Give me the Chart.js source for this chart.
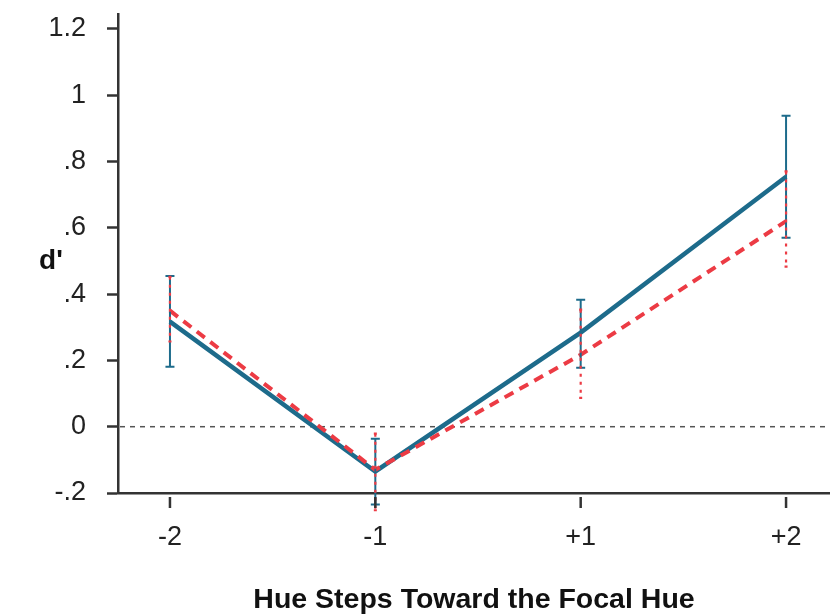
<!DOCTYPE html>
<html>
<head>
<meta charset="utf-8">
<script src="https://cdn.jsdelivr.net/npm/chart.js@4.4.1/dist/chart.umd.min.js"></script>
<style>
  html, body { margin: 0; padding: 0; background: #fff; }
  #wrap { width: 830px; height: 615px; position: relative; }
</style>
</head>
<body>
<div id="wrap"><canvas id="dprime"></canvas></div>
<script>
// values
const xLabels = ['-2', '-1', '+1', '+2'];
const xPos = [0, 1, 2, 3];

const blueMean = [0.317, -0.135, 0.284, 0.754];
const blueLow = [0.181, -0.235, 0.178, 0.570];
const blueHigh = [0.455, -0.036, 0.383, 0.938];

const redMean = [0.350, -0.130, 0.217, 0.620];
const redLow = [0.257, -0.252, 0.087, 0.483];
const redHigh = [0.452, -0.021, 0.353, 0.770];

const yTicks = [-0.2, 0, 0.2, 0.4, 0.6, 0.8, 1, 1.2];
const yTickLabels = ['-.2', '0', '.2', '.4', '.6', '.8', '1', '1.2'];

const blue = '#1d6b8b';
const red = '#ec3b44';
const axisCol = '#333333';
const fontFam = "'Liberation Sans', Arial, sans-serif";

function pts(vals) {
    return vals.map((v, i) => ({ x: xPos[i], y: v }));
}

// error bars, zero line, x tick marks, y title
const extras = {
    id: 'extras',
    beforeDatasetsDraw(chart) {
        const { ctx, chartArea, scales } = chart;
        const y0 = scales.y.getPixelForValue(0);
        ctx.save();
        ctx.strokeStyle = '#555';
        ctx.lineWidth = 1.5;
        ctx.setLineDash([5, 5]);
        ctx.beginPath();
        ctx.moveTo(chartArea.left + 2, y0);
        ctx.lineTo(chartArea.right, y0);
        ctx.stroke();
        ctx.restore();
    },
    afterDatasetsDraw(chart) {
        const { ctx, chartArea, scales } = chart;
        const xs = scales.x, ys = scales.y;

        function bars(low, high, color, dash, width, cap) {
            ctx.save();
            ctx.strokeStyle = color;
            ctx.lineWidth = width;
            for (let i = 0; i < xPos.length; i++) {
                const px = xs.getPixelForValue(xPos[i]);
                const top = ys.getPixelForValue(high[i]);
                const bot = ys.getPixelForValue(low[i]);
                ctx.setLineDash(dash);
                ctx.beginPath();
                ctx.moveTo(px, top);
                ctx.lineTo(px, bot);
                ctx.stroke();
                ctx.setLineDash([]);
                ctx.beginPath();
                ctx.moveTo(px - cap, top);
                ctx.lineTo(px + cap, top);
                ctx.moveTo(px - cap, bot);
                ctx.lineTo(px + cap, bot);
                ctx.stroke();
            }
            ctx.restore();
        }
        bars(blueLow, blueHigh, blue, [], 2, 4.5);
        bars(redLow, redHigh, red, [3, 5], 2.2, 1.5);

        // x tick marks sit a little below the axis line
        ctx.save();
        ctx.strokeStyle = axisCol;
        ctx.lineWidth = 2.5;
        for (let i = 0; i < xPos.length; i++) {
            const px = xs.getPixelForValue(xPos[i]);
            ctx.beginPath();
            ctx.moveTo(px, chartArea.bottom + 4);
            ctx.lineTo(px, chartArea.bottom + 15);
            ctx.stroke();
        }
        ctx.fillStyle = '#111';
        ctx.font = 'bold 28px ' + fontFam;
        ctx.textAlign = 'center';
        ctx.textBaseline = 'middle';
        ctx.fillText("d'", 51, ys.getPixelForValue(0.5));
        ctx.restore();
    }
};

new Chart(document.getElementById('dprime'), {
    type: 'line',
    data: {
        datasets: [
            {
                label: 'blue',
                data: pts(blueMean),
                borderColor: blue,
                borderWidth: 4.5,
                pointRadius: 0,
                fill: false,
                order: 2
            },
            {
                label: 'red',
                data: pts(redMean),
                borderColor: red,
                borderWidth: 4,
                borderDash: [10, 7],
                pointRadius: 0,
                fill: false,
                order: 1
            }
        ]
    },
    options: {
        responsive: true,
        maintainAspectRatio: false,
        animation: false,
        layout: { padding: { top: 14, left: 0, right: 0, bottom: 0 } },
        plugins: {
            legend: { display: false },
            tooltip: { enabled: false }
        },
        scales: {
            x: {
                type: 'linear',
                min: -0.253,
                max: 3.214,
                afterBuildTicks: (s) => { s.ticks = xPos.map(v => ({ value: v })); },
                afterFit: (s) => { s.height = 122; s.paddingLeft = 0; s.paddingRight = 0; },
                ticks: {
                    autoSkip: false,
                    maxRotation: 0,
                    padding: 28,
                    color: '#222',
                    font: { family: fontFam, size: 27 },
                    callback: (v) => xLabels[xPos.indexOf(v)]
                },
                grid: { display: false, drawTicks: false },
                border: { display: true, color: axisCol, width: 2.5 },
                title: {
                    display: true,
                    text: 'Hue Steps Toward the Focal Hue',
                    color: '#111',
                    font: { family: fontFam, size: 28.5, weight: 'bold' },
                    padding: { top: 0, bottom: -2 }
                }
            },
            y: {
                min: -0.2,
                max: 1.245,
                afterBuildTicks: (s) => { s.ticks = yTicks.map(v => ({ value: v })); },
                afterFit: (s) => { s.width = 118; s.paddingTop = 0; s.paddingBottom = 0; },
                ticks: {
                    padding: 21,
                    color: '#222',
                    font: { family: fontFam, size: 27 },
                    callback: (v) => yTickLabels[yTicks.indexOf(v)]
                },
                grid: {
                    drawOnChartArea: false,
                    drawTicks: true,
                    tickLength: 11,
                    tickWidth: 2.5,
                    tickColor: axisCol
                },
                border: { display: true, color: axisCol, width: 2.5 }
            }
        }
    },
    plugins: [extras]
});
</script>
</body>
</html>
